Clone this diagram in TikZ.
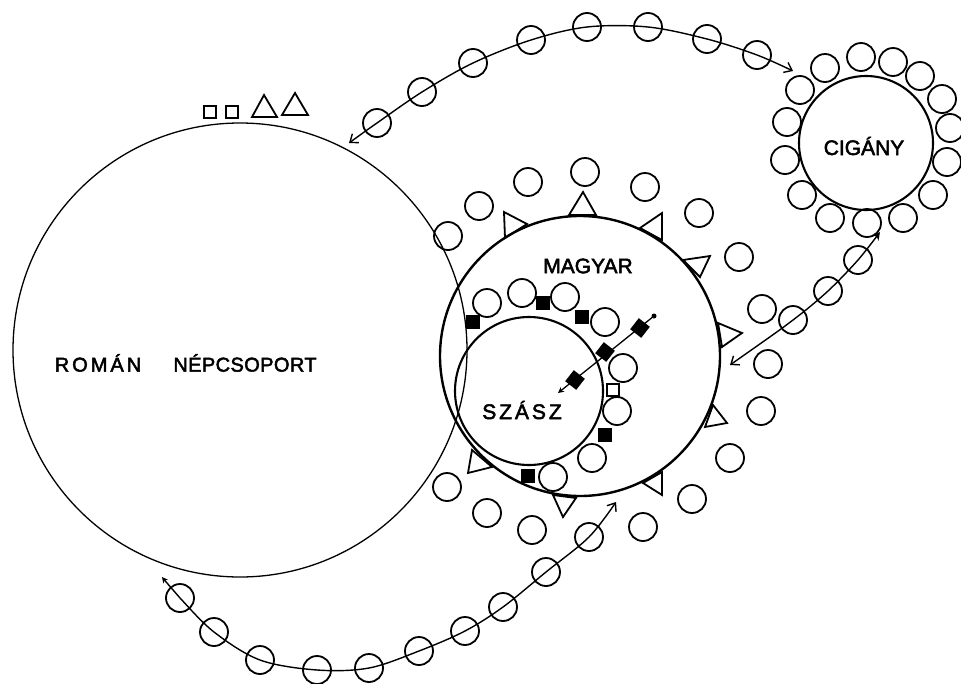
\documentclass[tikz,border=0pt]{standalone}
\usepackage{fontspec}
\setmainfont{Liberation Sans}
\newfontfamily\labfont[FakeBold=2.5]{Liberation Sans}
\newfontfamily\romfont[LetterSpace=15,FakeBold=2.5]{Liberation Sans}
\newfontfamily\nepfont[LetterSpace=2,FakeBold=2.5]{Liberation Sans}
\newfontfamily\szfont[LetterSpace=14,FakeBold=2.5]{Liberation Sans}
\usetikzlibrary{arrows.meta}
\tikzset{
  myBarb/.tip={Straight Barb[length=7pt,width=11pt,line width=1.4pt]},
  mySmall/.tip={Stealth[length=6pt,width=6pt]},
  myHead/.tip={Stealth[length=8pt,width=8pt]}
}
\begin{document}
\begin{tikzpicture}[x=1pt,y=-1pt,
  ring/.style={draw, circle, line width=1.8pt, minimum size=28pt, inner sep=0pt},
  bigc/.style={draw, circle, inner sep=0pt},
  fsq/.style={fill=black, minimum size=14pt, inner sep=0pt},
  osq/.style={draw, line width=1.5pt, minimum size=12pt, inner sep=0pt},
  tri/.style={draw, line width=1.8pt, line join=miter},
  link/.style={line width=1.4pt},
  lab/.style={inner sep=0pt}
]
\useasboundingbox (0,0) rectangle (961,683);

% main group circles
\node[bigc, line width=1.3pt, minimum size=454pt] (roman) at (240,350) {};
\node[bigc, line width=2.4pt, minimum size=280pt] (magyar) at (580,356) {};
\node[bigc, line width=2.1pt, minimum size=148pt] (szasz) at (529,391) {};
\node[bigc, line width=2.1pt, minimum size=134pt] (cigany) at (866,143) {};

% labels
\node[lab, font=\romfont\fontsize{20}{20}\selectfont] (tRoman) at (98,363) {ROMÁN};
\node[lab, font=\nepfont\fontsize{20}{20}\selectfont] (tNep) at (245,363) {NÉPCSOPORT};
\node[lab, font=\labfont\fontsize{21}{21}\selectfont] (tMagyar) at (588,266) {MAGYAR};
\node[lab, font=\szfont\fontsize{21}{21}\selectfont] (tSzasz) at (522,410) {SZÁSZ};
\node[lab, font=\labfont\fontsize{21}{21}\selectfont] (tCigany) at (864,146) {CIGÁNY};

% squares and triangles above the Roman circle
\node[osq] (rs1) at (210,112) {};
\node[osq] (rs2) at (232,112) {};
\draw[tri] (252,117) -- (264,95) -- (277,117) -- cycle;
\draw[tri] (282,115) -- (295,93) -- (308,115) -- cycle;

% Cigany ring
\foreach \n/\p in {1/{(825,68)},2/{(861,57)},3/{(893,62)},4/{(920,76)},5/{(942,99)},
  6/{(950,128)},7/{(947,162)},8/{(933,195)},9/{(903,218)},10/{(867,223)},
  11/{(830,218)},12/{(802,195)},13/{(785,160)},14/{(787,122)},15/{(800,90)}}
  \node[ring] (c\n) at \p {};

% Magyar outer circles
\foreach \n/\p in {1/{(448,236)},2/{(479,206)},3/{(528,182)},4/{(585,172)},5/{(645,187)},
  6/{(699,213)},7/{(739,257)},8/{(762,309)},9/{(768,364)},10/{(761,411)},
  11/{(730,458)},12/{(692,499)},13/{(643,527)},14/{(532,530)},15/{(487,513)},16/{(447,487)}}
  \node[ring] (m\n) at \p {};

% Magyar inner circles
\foreach \n/\p in {1/{(487,303)},2/{(522,293)},3/{(565,297)},4/{(605,322)},
  5/{(623,368)},6/{(617,411)},7/{(592,458)},8/{(553,477)}}
  \node[ring] (i\n) at \p {};

% Magyar triangles
\draw[tri] (504,212) -- (527,224) -- (505,238) -- cycle;
\draw[tri] (583,192) -- (569,215) -- (596,215) -- cycle;
\draw[line width=3pt] (570,215) -- (595,215);
\draw[tri] (662,213) -- (640,228) -- (662,240) -- cycle;
\draw[tri] (683,260) -- (710,256) -- (700,277) -- cycle;
\draw[tri] (718,323) -- (742,333) -- (722,347) -- cycle;
\draw[tri] (713,405) -- (727,423) -- (705,427) -- cycle;
\draw[tri] (662,472) -- (662,495) -- (643,483) -- cycle;
\draw[tri] (553,495) -- (576,498) -- (563,517) -- cycle;
\draw[tri] (472,450) -- (492,467) -- (468,473) -- cycle;

% squares inside Magyar
\node[fsq] (q1) at (473,322) {};
\node[fsq] (q2) at (543,303) {};
\node[fsq] (q3) at (582,317) {};
\node[fsq, rotate=-38] (q4) at (640,328) {};
\node[fsq, rotate=-38] (q5) at (605,352) {};
\node[fsq, rotate=-38] (q6) at (575,380) {};
\node[fsq] (q7) at (605,435) {};
\node[fsq] (q8) at (528,476) {};
\node[osq] (q9) at (613,390) {};

% migration arrow into Szasz
\node[fill=black, circle, minimum size=5pt, inner sep=0pt] (dot) at (654,316) {};
\coordinate (sztip) at (558,393);
\draw[line width=1.3pt, -mySmall] (dot.center) -- (sztip);

% top arc: Roman <-> Cigany
\coordinate (ta) at (349,143);
\coordinate (tb) at (793,71);
\foreach \n/\p in {1/{(377,123)},2/{(422,92)},3/{(473,63)},4/{(531,40)},
  5/{(587,27)},6/{(648,27)},7/{(707,39)},8/{(757,55)}}
  \node[ring] (t\n) at \p {};
\draw[link, myBarb-myBarb] plot[smooth, tension=0.55] coordinates {(ta) (t1.center) (t2.center) (t3.center) (t4.center) (t5.center) (t6.center) (t7.center) (t8.center) (tb)};

% right arc: Magyar <-> Cigany
\coordinate (ra) at (730,365);
\coordinate (rb) at (880,232);
\foreach \n/\p in {1/{(793,320)},2/{(828,291)},3/{(858,260)}}
  \node[ring] (r\n) at \p {};
\draw[link, myBarb-myHead] plot[smooth, tension=0.5] coordinates {(ra) (r1.center) (r2.center) (r3.center) (rb)};

% bottom arc: Roman <-> Magyar
\coordinate (ba) at (162,577);
\coordinate (bb) at (616,502);
\foreach \n/\p in {1/{(180,598)},2/{(214,632)},3/{(260,660)},4/{(317,670)},5/{(369,668)},
  6/{(419,651)},7/{(465,631)},8/{(503,607)},9/{(546,572)},10/{(589,537)}}
  \node[ring] (b\n) at \p {};
\draw[link, mySmall-myBarb] plot[smooth, tension=0.55] coordinates {(ba) (b1.center) (b2.center) (b3.center) (b4.center) (b5.center) (b6.center) (b7.center) (b8.center) (b9.center) (b10.center) (bb)};
\end{tikzpicture}
\end{document}
